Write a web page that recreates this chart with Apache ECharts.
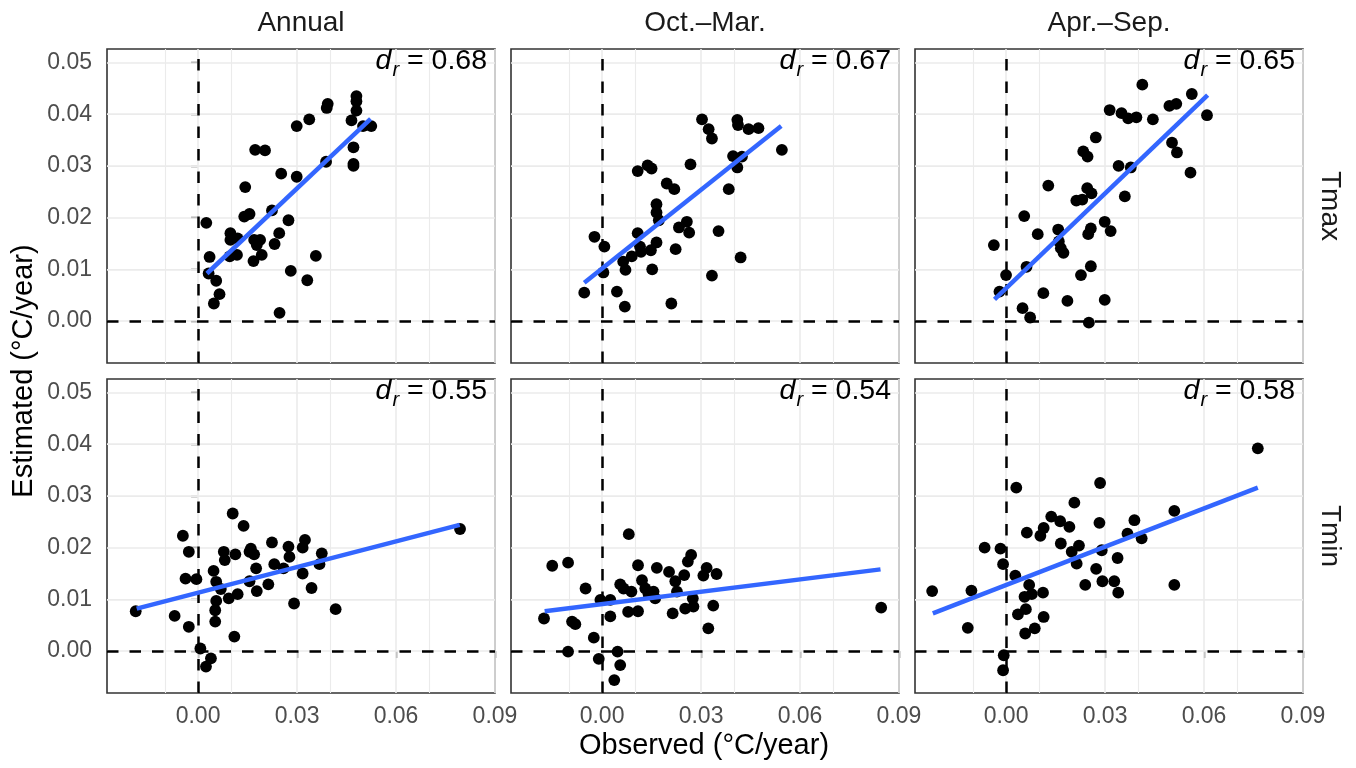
<!DOCTYPE html>
<html><head><meta charset="utf-8">
<script src="https://cdn.jsdelivr.net/npm/echarts@6/dist/echarts.min.js"></script>
<style>html,body{margin:0;padding:0;background:#fff}#c{width:1356px;height:768px}</style>
</head><body><div id="c"></div>
<script>
// ---- categories / ticks ----
const seasons = ['Annual', 'Oct.\u2013Mar.', 'Apr.\u2013Sep.'];
const variables = ['Tmax', 'Tmin'];
const xTicks = [0, 0.03, 0.06, 0.09];
const xTickLabels = ['0.00', '0.03', '0.06', '0.09'];
const xMinor = [-0.015, 0.015, 0.045, 0.075];
const yTicks = [0, 0.01, 0.02, 0.03, 0.04, 0.05];
const yTickLabels = ['0.00', '0.01', '0.02', '0.03', '0.04', '0.05'];
const yMinor = [-0.005, 0.005, 0.015, 0.025, 0.035, 0.045];
const xRange = [-0.0276, 0.09];
const yRange = [-0.0081, 0.0526];
const drValues = [['0.68', '0.67', '0.65'], ['0.55', '0.54', '0.58']];
const xTitle = 'Observed (\u00B0C/year)';
const yTitle = 'Estimated (\u00B0C/year)';

// ---- points [observed, estimated] ----
const tmaxAnnual = [[0.0025,0.0190],[0.0035,0.0124],[0.0032,0.0092],[0.0055,0.0078],[0.0065,0.0052],[0.0048,0.0034],[0.0098,0.0170],[0.0098,0.0157],[0.0120,0.0160],[0.0096,0.0125],[0.0118,0.0128],[0.0143,0.0259],[0.0140,0.0202],[0.0156,0.0207],[0.0170,0.0157],[0.0188,0.0157],[0.0178,0.0147],[0.0168,0.0116],[0.0193,0.0128],[0.0173,0.0331],[0.0203,0.0330],[0.0224,0.0214],[0.0232,0.0149],[0.0246,0.0170],[0.0252,0.0285],[0.0274,0.0195],[0.0281,0.0097],[0.0247,0.0016],[0.0299,0.0279],[0.0299,0.0377],[0.0337,0.0390],[0.0331,0.0079],[0.0357,0.0126],[0.0388,0.0308],[0.0393,0.0420],[0.0390,0.0412],[0.0480,0.0435],[0.0480,0.0425],[0.0480,0.0407],[0.0465,0.0388],[0.0500,0.0377],[0.0525,0.0377],[0.0471,0.0336],[0.0471,0.0304],[0.0471,0.0300]];
const tmaxOctMar = [[-0.0054,0.0055],[-0.0023,0.0163],[0.0007,0.0144],[0.0004,0.0094],[0.0045,0.0057],[0.0069,0.0028],[0.0064,0.0115],[0.0071,0.0099],[0.0090,0.0125],[0.0108,0.0170],[0.0108,0.0290],[0.0138,0.0301],[0.0150,0.0295],[0.0118,0.0134],[0.0115,0.0144],[0.0148,0.0137],[0.0165,0.0152],[0.0152,0.0100],[0.0165,0.0226],[0.0165,0.0210],[0.0172,0.0195],[0.0196,0.0266],[0.0219,0.0255],[0.0223,0.0139],[0.0210,0.0034],[0.0233,0.0181],[0.0257,0.0192],[0.0264,0.0171],[0.0268,0.0303],[0.0303,0.0390],[0.0323,0.0371],[0.0333,0.0353],[0.0333,0.0088],[0.0353,0.0174],[0.0384,0.0255],[0.0397,0.0319],[0.0424,0.0318],[0.0410,0.0297],[0.0410,0.0389],[0.0412,0.0379],[0.0444,0.0371],[0.0474,0.0373],[0.0420,0.0123],[0.0545,0.0331]];
const tmaxAprSep = [[-0.0037,0.0147],[-0.0020,0.0057],[0.0000,0.0089],[0.0050,0.0025],[0.0073,0.0007],[0.0055,0.0203],[0.0062,0.0105],[0.0096,0.0168],[0.0113,0.0054],[0.0128,0.0262],[0.0158,0.0177],[0.0160,0.0154],[0.0166,0.0141],[0.0174,0.0132],[0.0186,0.0039],[0.0213,0.0233],[0.0231,0.0235],[0.0246,0.0257],[0.0259,0.0247],[0.0227,0.0089],[0.0257,0.0106],[0.0249,0.0168],[0.0257,0.0179],[0.0234,0.0328],[0.0247,0.0318],[0.0272,0.0355],[0.0251,-0.0003],[0.0299,0.0192],[0.0317,0.0174],[0.0299,0.0041],[0.0314,0.0408],[0.0341,0.0300],[0.0378,0.0297],[0.0360,0.0241],[0.0350,0.0402],[0.0370,0.0392],[0.0395,0.0394],[0.0413,0.0457],[0.0445,0.0390],[0.0495,0.0416],[0.0516,0.0420],[0.0503,0.0345],[0.0518,0.0326],[0.0559,0.0287],[0.0563,0.0439],[0.0609,0.0398]];
const tminAnnual = [[-0.0189,0.0077],[-0.0071,0.0068],[-0.0028,0.0047],[-0.0046,0.0223],[-0.0028,0.0192],[-0.0038,0.0140],[-0.0005,0.0139],[0.0007,0.0005],[0.0039,-0.0014],[0.0024,-0.0030],[0.0047,0.0155],[0.0055,0.0134],[0.0069,0.0120],[0.0055,0.0097],[0.0052,0.0079],[0.0052,0.0057],[0.0078,0.0192],[0.0081,0.0176],[0.0113,0.0187],[0.0093,0.0102],[0.0120,0.0110],[0.0110,0.0028],[0.0105,0.0266],[0.0138,0.0242],[0.0160,0.0198],[0.0156,0.0192],[0.0170,0.0187],[0.0176,0.0160],[0.0156,0.0135],[0.0178,0.0116],[0.0213,0.0129],[0.0224,0.0210],[0.0231,0.0168],[0.0259,0.0160],[0.0274,0.0202],[0.0277,0.0182],[0.0291,0.0092],[0.0317,0.0150],[0.0317,0.0200],[0.0324,0.0215],[0.0344,0.0122],[0.0368,0.0168],[0.0375,0.0189],[0.0417,0.0081],[0.0794,0.0236]];
const tminOctMar = [[-0.0176,0.0063],[-0.0151,0.0165],[-0.0103,0.0171],[-0.0050,0.0121],[-0.0091,0.0057],[-0.0081,0.0052],[-0.0103,-0.0001],[-0.0025,0.0026],[-0.0010,-0.0015],[-0.0005,0.0099],[0.0025,0.0099],[0.0025,0.0067],[0.0047,-0.0001],[0.0055,-0.0027],[0.0037,-0.0056],[0.0055,0.0129],[0.0065,0.0121],[0.0089,0.0115],[0.0079,0.0076],[0.0109,0.0077],[0.0081,0.0226],[0.0109,0.0166],[0.0121,0.0137],[0.0131,0.0121],[0.0141,0.0110],[0.0156,0.0115],[0.0161,0.0102],[0.0166,0.0161],[0.0203,0.0153],[0.0222,0.0135],[0.0249,0.0147],[0.0227,0.0115],[0.0214,0.0073],[0.0260,0.0173],[0.0270,0.0186],[0.0275,0.0102],[0.0277,0.0086],[0.0252,0.0082],[0.0307,0.0146],[0.0317,0.0161],[0.0347,0.0149],[0.0337,0.0088],[0.0322,0.0044],[0.0846,0.0084]];
const tminAprSep = [[-0.0224,0.0116],[-0.0105,0.0117],[-0.0116,0.0045],[-0.0065,0.0200],[-0.0017,0.0198],[-0.0009,0.0168],[-0.0007,-0.0008],[-0.0009,-0.0037],[0.0028,0.0146],[0.0031,0.0316],[0.0036,0.0071],[0.0060,0.0081],[0.0058,0.0034],[0.0087,0.0044],[0.0114,0.0066],[0.0056,0.0105],[0.0070,0.0128],[0.0078,0.0110],[0.0112,0.0113],[0.0063,0.0229],[0.0104,0.0223],[0.0114,0.0238],[0.0137,0.0260],[0.0164,0.0251],[0.0192,0.0240],[0.0166,0.0208],[0.0207,0.0287],[0.0199,0.0192],[0.0221,0.0204],[0.0214,0.0169],[0.0240,0.0128],[0.0273,0.0159],[0.0285,0.0325],[0.0283,0.0248],[0.0290,0.0195],[0.0292,0.0135],[0.0328,0.0135],[0.0340,0.0113],[0.0338,0.0180],[0.0368,0.0227],[0.0389,0.0253],[0.0411,0.0218],[0.0510,0.0271],[0.0510,0.0128],[0.0763,0.0392]];

// ---- fitted lines (endpoints) ----
const fitTmaxAnnual = [[0.0027,0.0092],[0.0523,0.0391]];
const fitTmaxOctMar = [[-0.0054,0.0074],[0.0543,0.0377]];
const fitTmaxAprSep = [[-0.0035,0.0042],[0.0611,0.0437]];
const fitTminAnnual = [[-0.0186,0.0082],[0.0793,0.0244]];
const fitTminOctMar = [[-0.0174,0.0077],[0.0844,0.0158]];
const fitTminAprSep = [[-0.0222,0.0073],[0.0763,0.0316]];

const points = [[tmaxAnnual, tmaxOctMar, tmaxAprSep], [tminAnnual, tminOctMar, tminAprSep]];
const fits = [[fitTmaxAnnual, fitTmaxOctMar, fitTmaxAprSep], [fitTminAnnual, fitTminOctMar, fitTminAprSep]];

// ---- layout ----
const FONT = 'Liberation Sans, Arial, Helvetica, sans-serif';
const panelLefts = [107, 511, 915];
const panelTops = [49, 379];
const PW = 388, PH = 314;

function lookup(ticks, labels, v) {
  const i = ticks.findIndex(t => Math.abs(t - v) < 1e-9);
  return i >= 0 ? labels[i] : '';
}

const grids = [], xAxes = [], yAxes = [], series = [], graphics = [];
let gi = 0;
for (let r = 0; r < 2; r++) {
  for (let c = 0; c < 3; c++) {
    grids.push({left: panelLefts[c], top: panelTops[r], width: PW, height: PH, show: true,
      borderColor: '#333333', borderWidth: 1.6, backgroundColor: '#fff', containLabel: false});
    const showX = r === 1, showY = c === 0;
    xAxes.push({type: 'value', gridIndex: gi, min: xRange[0], max: xRange[1],
      axisLine: {show: false}, splitLine: {show: false},
      axisTick: {show: showX, length: 7, customValues: xTicks, lineStyle: {color: '#333333', width: 1.4}},
      axisLabel: {show: showX, customValues: xTicks, margin: 12, color: '#4D4D4D', fontSize: 23, fontFamily: FONT,
        formatter: v => lookup(xTicks, xTickLabels, v)}});
    yAxes.push({type: 'value', gridIndex: gi, min: yRange[0], max: yRange[1],
      axisLine: {show: false}, splitLine: {show: false},
      axisTick: {show: showY, length: 7, customValues: yTicks, lineStyle: {color: '#333333', width: 1.4}},
      axisLabel: {show: showY, customValues: yTicks, margin: 15, color: '#4D4D4D', fontSize: 23, fontFamily: FONT,
        formatter: v => lookup(yTicks, yTickLabels, v)}});
    // grid lines
    const gl = [];
    xMinor.forEach(v => gl.push({xAxis: v, lineStyle: {color: '#EBEBEB', width: 1.1, type: 'solid'}}));
    yMinor.forEach(v => gl.push({yAxis: v, lineStyle: {color: '#EBEBEB', width: 1.1, type: 'solid'}}));
    xTicks.forEach(v => gl.push({xAxis: v, lineStyle: {color: '#EBEBEB', width: 1.6, type: 'solid'}}));
    yTicks.forEach(v => gl.push({yAxis: v, lineStyle: {color: '#EBEBEB', width: 1.6, type: 'solid'}}));
    series.push({type: 'scatter', xAxisIndex: gi, yAxisIndex: gi, data: [], silent: true, z: 1,
      markLine: {silent: true, z: 1, symbol: ['none', 'none'], label: {show: false}, animation: false, data: gl}});
    series.push({type: 'scatter', xAxisIndex: gi, yAxisIndex: gi, data: [], silent: true, z: 2,
      markLine: {silent: true, z: 2, symbol: ['none', 'none'], label: {show: false}, animation: false,
        lineStyle: {color: '#000', width: 2.5, type: [11.5, 11]},
        data: [{xAxis: 0}, {yAxis: 0}]}});
    series.push({type: 'scatter', xAxisIndex: gi, yAxisIndex: gi, data: points[r][c], z: 3,
      symbolSize: 11.8, itemStyle: {color: '#000', opacity: 1}, animation: false});
    series.push({type: 'line', xAxisIndex: gi, yAxisIndex: gi, data: fits[r][c], z: 4,
      symbol: 'none', lineStyle: {color: '#3366FF', width: 4.5}, animation: false});
    // d_r label
    graphics.push({type: 'text', x: panelLefts[c] + 380, y: panelTops[r] - 6, z: 10,
      style: {text: '{i|d}{s|r}{n| = ' + drValues[r][c] + '}', align: 'right', verticalAlign: 'top',
        rich: {
          i: {fontSize: 28.5, fontStyle: 'italic', fontFamily: FONT, fill: '#000', color: '#000'},
          s: {fontSize: 20, fontStyle: 'italic', fontFamily: FONT, fill: '#000', color: '#000', padding: [17, 0, 0, 1]},
          n: {fontSize: 28.5, fontFamily: FONT, fill: '#000', color: '#000'}
        }}});
    gi++;
  }
}
// strips
seasons.forEach((s, c) => graphics.push({type: 'text', x: panelLefts[c] + PW / 2, y: 23.5,
  style: {text: s, align: 'center', verticalAlign: 'middle', font: '28px ' + FONT, fill: '#1A1A1A'}}));
variables.forEach((v, r) => graphics.push({type: 'text', x: 1330, y: panelTops[r] + PH / 2, rotation: -Math.PI / 2,
  style: {text: v, align: 'center', verticalAlign: 'middle', font: '28px ' + FONT, fill: '#1A1A1A'}}));
graphics.push({type: 'text', x: 704, y: 746,
  style: {text: xTitle, align: 'center', verticalAlign: 'middle', font: '29px ' + FONT, fill: '#000'}});
graphics.push({type: 'text', x: 24, y: 371, rotation: Math.PI / 2,
  style: {text: yTitle, align: 'center', verticalAlign: 'middle', font: '29px ' + FONT, fill: '#000'}});

const chart = echarts.init(document.getElementById('c'), null, {renderer: 'canvas'});
chart.setOption({animation: false, backgroundColor: '#fff', grid: grids, xAxis: xAxes, yAxis: yAxes,
  series: series, graphic: graphics});
</script></body></html>
